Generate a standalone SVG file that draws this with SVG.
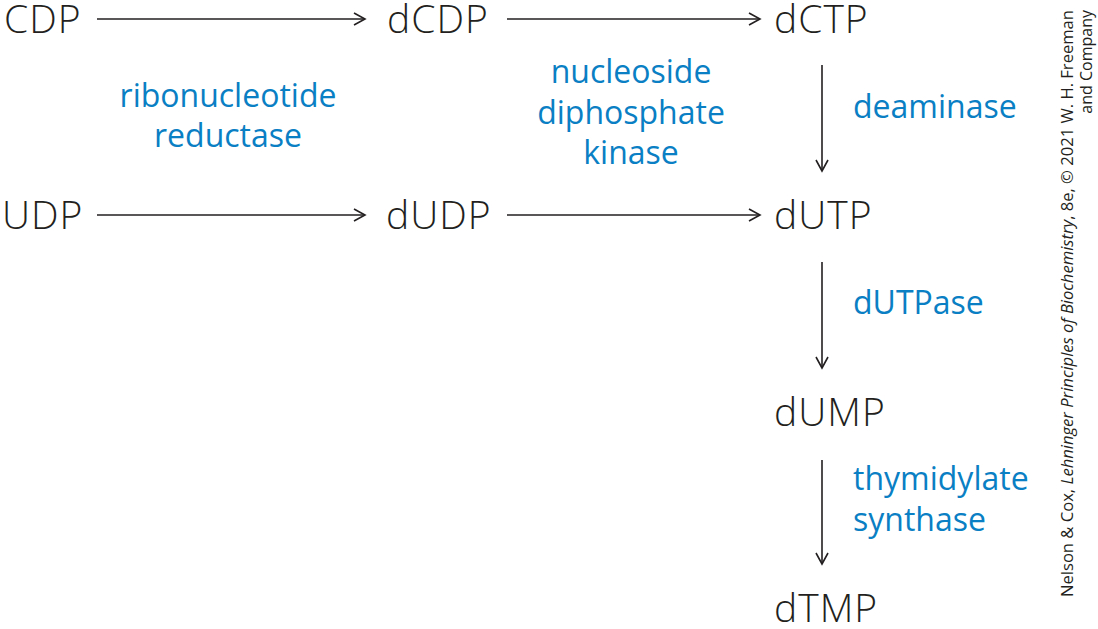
<svg xmlns="http://www.w3.org/2000/svg" width="1098" height="629" viewBox="0 0 1098 629">
<defs>
<marker id="ah" markerWidth="14" markerHeight="14" refX="12" refY="7" orient="auto" markerUnits="userSpaceOnUse">
<path d="M1,1 L12,7 L1,13" fill="none" stroke="#231f20" stroke-width="1.6"/>
</marker>
<style>
.m{font-family:"Open Sans","Liberation Sans",sans-serif;font-weight:300;font-size:39px;letter-spacing:1px;fill:#231f20}
.e{font-family:"Open Sans","Liberation Sans",sans-serif;font-weight:400;font-size:32px;fill:#0a7fc4}
.c{font-family:"Open Sans","Liberation Sans",sans-serif;font-size:16px;fill:#231f20}
.a{stroke:#231f20;stroke-width:1.6;fill:none;marker-end:url(#ah)}
</style>
</defs>
<rect width="1098" height="629" fill="#fff"/>
<g id="connectors">
<line class="a" x1="97" y1="19" x2="365" y2="19"/>
<line class="a" x1="507" y1="19" x2="760" y2="19"/>
<line class="a" x1="97" y1="215" x2="365" y2="215"/>
<line class="a" x1="507" y1="215" x2="760" y2="215"/>
<line class="a" x1="822" y1="65" x2="822" y2="171"/>
<line class="a" x1="822" y1="262" x2="822" y2="368"/>
<line class="a" x1="822" y1="460" x2="822" y2="564"/>
</g>
<g id="CDP"><text class="m" x="4" y="33">CDP</text></g>
<g id="dCDP"><text class="m" x="387" y="33">dCDP</text></g>
<g id="dCTP"><text class="m" x="774" y="33">dCTP</text></g>
<g id="UDP"><text class="m" x="2" y="229">UDP</text></g>
<g id="dUDP"><text class="m" x="386" y="229">dUDP</text></g>
<g id="dUTP"><text class="m" x="774" y="229">dUTP</text></g>
<g id="dUMP"><text class="m" x="774" y="426">dUMP</text></g>
<g id="dTMP"><text class="m" x="774" y="622">dTMP</text></g>
<g id="labels">
<text class="e" x="228" y="107" text-anchor="middle">ribonucleotide</text>
<text class="e" x="228" y="147" text-anchor="middle">reductase</text>
<text class="e" x="631" y="83" text-anchor="middle">nucleoside</text>
<text class="e" x="631" y="124" text-anchor="middle">diphosphate</text>
<text class="e" x="631" y="164" text-anchor="middle">kinase</text>
<text class="e" x="853" y="118">deaminase</text>
<text class="e" x="853" y="314">dUTPase</text>
<text class="e" x="853" y="490">thymidylate</text>
<text class="e" x="853" y="531">synthase</text>
</g>
<g id="credit">
<text class="c" transform="translate(1073,10) rotate(-90)" text-anchor="end" textLength="587" lengthAdjust="spacingAndGlyphs">Nelson &amp; Cox, <tspan font-style="italic">Lehninger Principles of Biochemistry</tspan>, 8e, © 2021 W. H. Freeman</text>
<text class="c" transform="translate(1092,10) rotate(-90)" text-anchor="end">and Company</text>
</g>
</svg>
